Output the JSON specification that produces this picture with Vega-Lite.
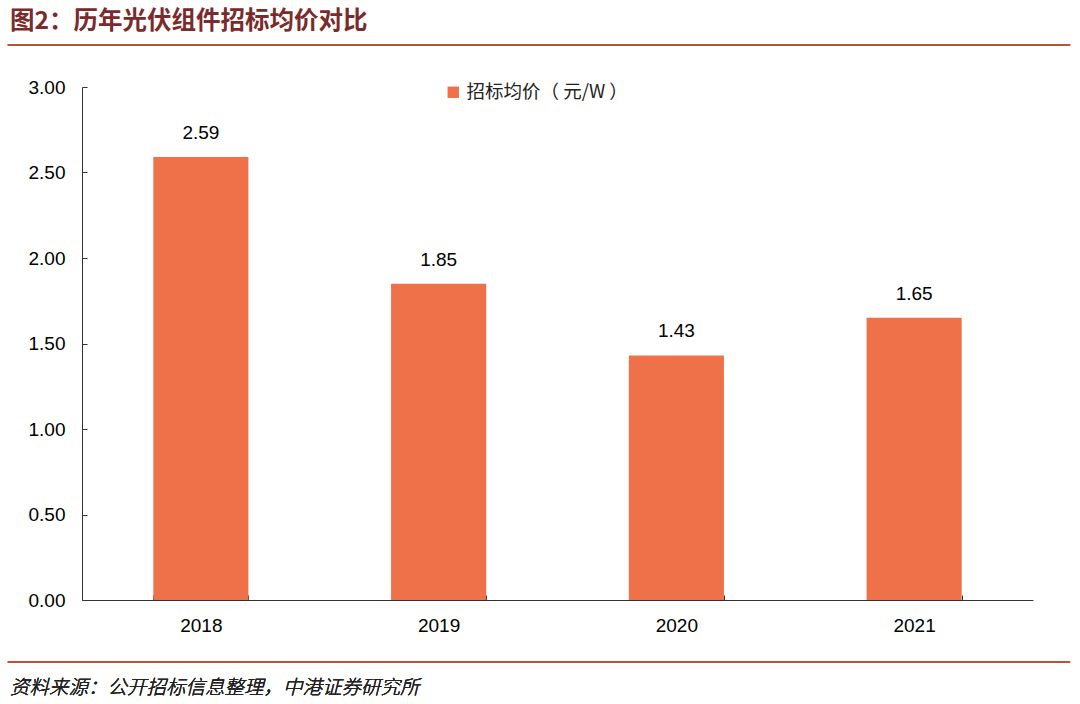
{
  "$schema": "https://vega.github.io/schema/vega-lite/v6.json",
  "width": 951,
  "height": 513,
  "autosize": {"type": "none"},
  "padding": {"left": 82, "top": 87, "right": 47, "bottom": 104},
  "background": "white",
  "title": {
    "text": "图2：历年光伏组件招标均价对比",
    "anchor": "start",
    "frame": "group",
    "dx": -72,
    "offset": 9,
    "font": "Noto Sans CJK SC",
    "fontSize": 24.5,
    "fontWeight": "bold",
    "color": "#7A2B2B"
  },
  "config": {
    "view": {"stroke": null},
    "font": "Liberation Sans",
    "axis": {"domainColor": "#333333", "tickColor": "#333333", "labelColor": "#000000", "labelFontSize": 19, "grid": false, "title": null}
  },
  "data": {
    "values": [
      {"year": "2018", "price": 2.59},
      {"year": "2019", "price": 1.85},
      {"year": "2020", "price": 1.43},
      {"year": "2021", "price": 1.65}
    ]
  },
  "layer": [
    {
      "layer": [
        {
          "mark": {"type": "bar"},
          "encoding": {
            "x": {
              "field": "year",
              "type": "nominal",
              "scale": {"paddingInner": 0.6, "paddingOuter": 0.3},
              "axis": {"labelAngle": 0, "tickBand": "extent", "tickSize": -5, "labelPadding": 21}
            },
            "y": {
              "field": "price",
              "type": "quantitative",
              "scale": {"domain": [0, 3]},
              "axis": {"values": [0, 0.5, 1, 1.5, 2, 2.5, 3], "format": ".2f", "tickSize": -5, "labelPadding": 22}
            },
            "color": {
              "datum": "招标均价（ 元/W ）",
              "scale": {"range": ["#EE7149"]},
              "legend": {
                "title": null,
                "orient": "none",
                "legendX": 362,
                "legendY": -4,
                "symbolType": "square",
                "symbolSize": 130,
                "labelFont": "Noto Sans CJK SC",
                "labelFontSize": 18.5,
                "labelLimit": 400,
                "labelColor": "#222222"
              }
            }
          }
        },
        {
          "mark": {"type": "text", "baseline": "alphabetic", "dy": -18, "fontSize": 19, "color": "#000000"},
          "encoding": {
            "x": {"field": "year", "type": "nominal"},
            "y": {"field": "price", "type": "quantitative"},
            "text": {"field": "price", "type": "quantitative", "format": ".2f"}
          }
        }
      ]
    },
    {
      "mark": {"type": "rule", "color": "#B9533A", "strokeWidth": 2},
      "encoding": {
        "x": {"datum": -0.078, "type": "quantitative", "scale": {"domain": [0, 1]}, "axis": null},
        "x2": {"datum": 1.039},
        "y": {"datum": 3.246, "type": "quantitative"}
      }
    },
    {
      "mark": {"type": "rule", "color": "#B9533A", "strokeWidth": 2},
      "encoding": {
        "x": {"datum": -0.078, "type": "quantitative", "scale": {"domain": [0, 1]}, "axis": null},
        "x2": {"datum": 1.039},
        "y": {"datum": -0.3626, "type": "quantitative"}
      }
    },
    {
      "mark": {"type": "text", "align": "left", "baseline": "middle", "font": "Noto Sans CJK SC", "fontStyle": "italic", "fontWeight": 300, "fontSize": 19.5, "color": "#222222"},
      "encoding": {
        "x": {"datum": -0.0757, "type": "quantitative", "scale": {"domain": [0, 1]}, "axis": null},
        "y": {"datum": -0.5146, "type": "quantitative"},
        "text": {"value": "资料来源：公开招标信息整理，中港证券研究所"}
      }
    }
  ],
  "resolve": {"scale": {"x": "independent"}}
}
